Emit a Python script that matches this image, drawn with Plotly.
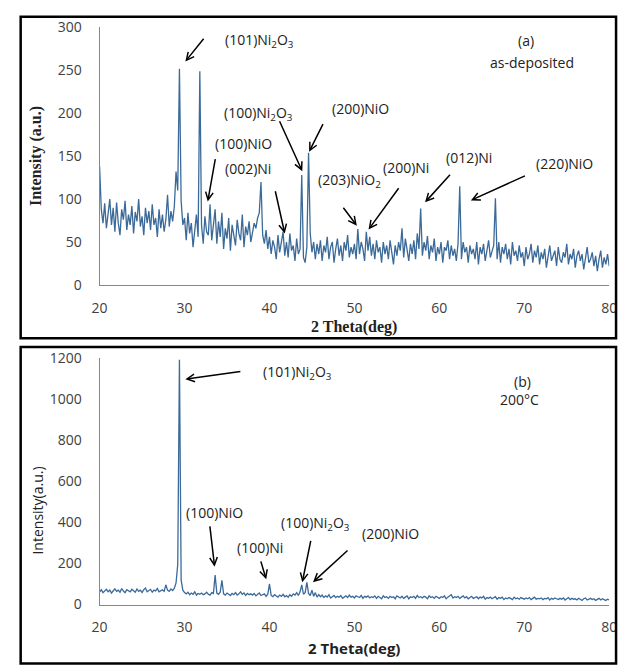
import numpy as np
import plotly.graph_objects as go

# ---------------- data ----------------
THETA_START = 20.0
THETA_STEP = 0.2

intensity_a = [
    138, 88, 72, 95, 66, 84, 100, 70, 90, 62,
    96, 72, 58, 88, 76, 98, 64, 82, 70, 92,
    60, 85, 74, 100, 68, 80, 58, 90, 72, 86,
    64, 94, 70, 78, 56, 88, 66, 82, 62, 76,
    105, 68, 86, 74, 92, 132, 110, 252, 98, 70,
    78, 52, 84, 60, 72, 44, 68, 82, 56, 249,
    70, 48, 80, 62, 58, 94, 52, 72, 88, 48,
    74, 56, 84, 42, 66, 54, 78, 40, 70, 58,
    46, 76, 60, 52, 82, 44, 68, 58, 74, 50,
    62, 72, 66, 78, 84, 120, 58, 48, 64, 42,
    56, 36, 52, 44, 30, 58, 38, 48, 62, 34,
    50, 32, 60, 40, 46, 28, 54, 36, 42, 128,
    32, 26, 44, 154, 60, 38, 50, 30, 48, 36,
    52, 28, 46, 38, 56, 30, 44, 50, 26, 42,
    54, 34, 46, 28, 50, 40, 58, 32, 44, 36,
    48, 30, 65, 36, 50, 42, 28, 62, 40, 56,
    34, 48, 30, 52, 38, 44, 26, 50, 36, 46,
    30, 52, 38, 24, 46, 34, 50, 40, 66, 32,
    54, 40, 28, 48, 36, 52, 30, 60, 42, 89,
    34, 50, 40, 57, 30, 46, 38, 54, 28, 44,
    36, 50, 26, 44, 40, 52, 30, 46, 34, 42,
    28, 48, 115, 30, 50, 38, 44, 26, 46, 36,
    42, 30, 50, 24, 44, 36, 48, 28, 40, 52,
    32, 38, 46, 101, 30, 50, 26, 44, 36, 48,
    30, 42, 24, 50, 34, 40, 28, 46, 32, 38,
    22, 44, 30, 36, 48, 26, 40, 32, 46, 24,
    38, 30, 42, 20, 36, 46, 28, 34, 40, 22,
    44, 30, 26, 38, 32, 48, 24, 36, 30, 42,
    20, 34, 40, 28, 36, 18, 32, 44, 26, 30,
    38, 22, 34, 16, 30, 40, 20, 32, 24, 36,
    22,
]

intensity_b = [
    60, 72, 58, 66, 74, 62, 70, 56, 68, 76,
    64, 70, 60, 78, 66, 58, 72, 68, 62, 74,
    66, 60, 76, 64, 70, 58, 72, 80, 62, 68,
    74, 60, 70, 66, 78, 62, 68, 72, 64, 96,
    70, 64, 76, 68, 80, 105, 195, 1190, 120, 70,
    58, 52, 60, 48, 56, 50, 62, 46, 54, 50,
    56, 48, 52, 60, 50, 46, 58, 54, 143, 56,
    50, 60, 118, 52, 46, 56, 50, 44, 54, 48,
    58, 46, 52, 62, 50, 56, 44, 54, 48, 52,
    46, 54, 42, 50, 56, 44, 48, 52, 40, 50,
    100, 44, 38, 48, 42, 36, 46, 40, 50, 38,
    44, 36, 48, 40, 52, 46, 58, 44, 62, 96,
    50, 58, 108, 54, 44, 70, 40, 58, 36, 48,
    38, 46, 34, 42, 36, 48, 32, 40, 44, 34,
    40, 36, 44, 30, 38, 42, 34, 46, 36, 40,
    32, 42, 38, 34, 44, 30, 40, 36, 42, 32,
    38, 34, 42, 30, 40, 36, 28, 42, 34, 38,
    30, 40, 34, 38, 28, 42, 36, 32, 40, 30,
    36, 42, 28, 38, 34, 40, 30, 44, 34, 38,
    32, 40, 36, 28, 42, 34, 38, 30, 40, 36,
    30, 38, 34, 42, 28, 36, 40, 48, 32, 38,
    34, 40, 30, 36, 42, 32, 38, 28, 36, 40,
    30, 34, 38, 28, 36, 32, 40, 26, 34, 30,
    36, 28, 32, 38, 26, 34, 30, 36, 24, 32,
    28, 34, 30, 24, 36, 28, 32, 26, 34, 30,
    26, 32, 28, 34, 24, 30, 36, 26, 30, 28,
    32, 24, 30, 28, 34, 22, 30, 26, 32, 28,
    24, 30, 26, 32, 22, 28, 34, 24, 30, 26,
    28, 22, 30, 26, 20, 28, 32, 22, 26, 30,
    24, 28, 20, 26, 30, 22, 28, 24, 20, 26,
    22,
]

x_ticks = [20, 30, 40, 50, 60, 70, 80]
y_ticks_a = [0, 50, 100, 150, 200, 250, 300]
y_ticks_b = [0, 200, 400, 600, 800, 1000, 1200]

theta_a = np.round(THETA_START + THETA_STEP * np.arange(len(intensity_a)), 2)
theta_b = np.round(THETA_START + THETA_STEP * np.arange(len(intensity_b)), 2)

# ---------------- figure ----------------
W, H = 626, 666
LINE = "#3b6a99"
TICKFONT = dict(family="Open Sans", size=14, color="#404040")

fig = go.Figure()
fig.add_trace(go.Scatter(x=theta_a, y=intensity_a, mode="lines",
                         line=dict(color=LINE, width=1.3), xaxis="x", yaxis="y",
                         showlegend=False, hoverinfo="x+y"))
fig.add_trace(go.Scatter(x=theta_b, y=intensity_b, mode="lines",
                         line=dict(color=LINE, width=1.3), xaxis="x2", yaxis="y2",
                         showlegend=False, hoverinfo="x+y"))

XL, XR = 94, 617
YA0, YA1 = 283, 18
YB0, YB1 = 612, 358
xdom = [XL / W, XR / W]
common_x = dict(range=[20, 80], tickvals=x_ticks, showline=True, linecolor="#878787",
                linewidth=1, showgrid=False, zeroline=False, ticks="",
                tickfont=TICKFONT, ticklabelstandoff=10, domain=xdom)
common_y = dict(showline=True, linecolor="#878787", linewidth=1, showgrid=False,
                zeroline=False, ticks="", tickfont=TICKFONT, ticklabelstandoff=14)

fig.update_layout(
    width=W, height=H,
    margin=dict(l=0, r=0, t=0, b=0),
    paper_bgcolor="white", plot_bgcolor="white",
    xaxis=dict(anchor="y", **common_x),
    yaxis=dict(anchor="x", range=[0, 300], tickvals=y_ticks_a,
               domain=[1 - YA0 / H, 1 - YA1 / H], **common_y),
    xaxis2=dict(anchor="y2", **common_x),
    yaxis2=dict(anchor="x2", range=[0, 1200], tickvals=y_ticks_b,
                domain=[1 - YB0 / H, 1 - YB1 / H], **common_y),
)

# panel borders
for (y0, y1) in [(1 - 338 / H, 1 - 7 / H), (-0.01, 1 - 347 / H)]:
    fig.add_shape(type="rect", xref="paper", yref="paper", x0=13 / W, x1=624 / W,
                  y0=y0, y1=y1, line=dict(color="black", width=2.5), fillcolor="rgba(0,0,0,0)")

ann = []
LABFONT = dict(family="Open Sans", size=14, color="#222222")


def label(px, py, text, font=LABFONT, angle=0):
    ann.append(dict(x=px / W, y=1 - py / H, xref="paper", yref="paper", text=text,
                    showarrow=False, font=font, xanchor="center", yanchor="middle",
                    textangle=angle))


def arrow(tx, ty, hx, hy, panel="a"):
    # positions given as reference pixels, converted to axis-domain fractions
    if panel == "a":
        yr, y0, y1 = "y domain", YA0, YA1
        xr = "x domain"
    else:
        yr, y0, y1 = "y2 domain", YB0, YB1
        xr = "x2 domain"
    fx = lambda p: (p - XL) / (XR - XL)
    fy = lambda p: (y0 - p) / (y0 - y1)
    ann.append(dict(x=fx(hx), y=fy(hy), xref=xr, yref=yr, text="",
                    showarrow=True, axref=xr, ayref=yr, ax=fx(tx), ay=fy(ty),
                    arrowhead=5, arrowsize=1.0, arrowwidth=1.5, arrowcolor="black",
                    standoff=0, startstandoff=0))


NI2O3 = "Ni<sub>2</sub>O<sub>3</sub>"
NIO2 = "NiO<sub>2</sub>"

# panel (a)
label(258, 31, "(101)" + NI2O3); arrow(202, 28, 182, 53)
label(532, 31, "(a)")
label(538, 54, "as-deposited")
label(257, 107, "(100)" + NI2O3); arrow(278, 113, 302, 166)
label(362, 101, "(200)NiO"); arrow(324, 116, 309, 146)
label(242, 137, "(100)NiO"); arrow(213, 152, 205, 197)
label(246, 163, "(002)Ni"); arrow(274, 185, 284, 230)
label(350, 176, "(203)" + NIO2); arrow(343, 202, 358, 222)
label(408, 162, "(200)Ni"); arrow(402, 182, 370, 226)
label(473, 152, "(012)Ni"); arrow(455, 168, 428, 198)
label(571, 158, "(220)NiO"); arrow(532, 170, 475, 196)

label(28, 150, "<b>Intensity (a.u.)</b>",
      font=dict(family="Liberation Serif", size=16, color="#222222"), angle=-90)
label(355, 326, "<b>2 Theta(deg)</b>",
      font=dict(family="Liberation Serif", size=16, color="#222222"))

# panel (b)
label(297, 373, "(101)" + NI2O3); arrow(240, 372, 182, 380, "b")
label(528, 382, "(b)")
label(525, 401, "200°C")
label(212, 517, "(100)NiO"); arrow(207, 530, 212, 573, "b")
label(259, 553, "(100)Ni"); arrow(259, 566, 265, 586, "b")
label(316, 529, "(100)" + NI2O3); arrow(311, 545, 302, 589, "b")
label(393, 539, "(200)NiO"); arrow(350, 555, 313, 589, "b")

label(30, 515, "Intensity(a.u.)",
      font=dict(family="Open Sans", size=14, color="#222222"), angle=-90)
label(355, 657, "<b>2 Theta(deg)</b>",
      font=dict(family="Open Sans", size=15, color="#222222"))

fig.update_layout(annotations=ann)

POST = """
document.documentElement.style.margin='0';
document.documentElement.style.overflow='hidden';
document.body.style.margin='0';
document.body.style.overflow='hidden';
"""

fig.write_html("out.html", config={"displayModeBar": False}, post_script=POST)
